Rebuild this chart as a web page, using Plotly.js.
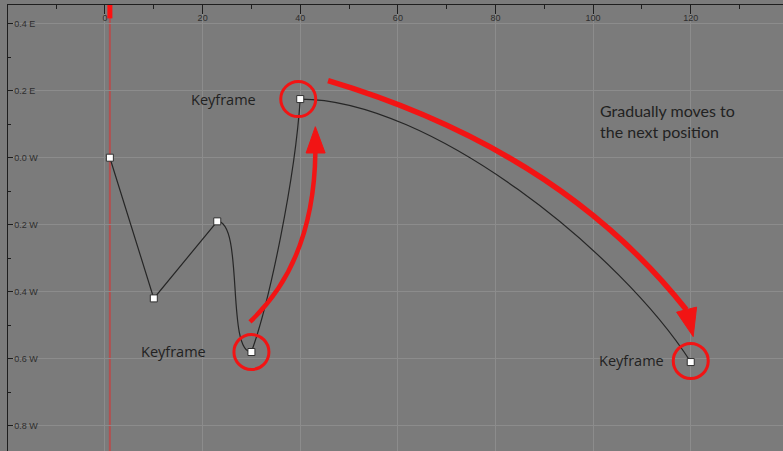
<!DOCTYPE html>
<html>
<head>
<meta charset="utf-8">
<script src="https://cdn.plot.ly/plotly-3.0.1.min.js"></script>
<style>html,body{margin:0;padding:0;background:#7b7b7b;}#chart{width:783px;height:451px;}</style>
</head>
<body>
<div id="chart"></div>
<script>
// Keyframes of the function curve
const frames = [1, 10, 23, 30, 40, 120];
const values = [0.0, -0.42, -0.19, -0.58, 0.175, -0.61];
// Segment interpolation between consecutive keyframes
const segType = ['linear', 'linear', 'bezier', 'bezier', 'bezier'];
// Bezier handles (outgoing from keyframe i, incoming to keyframe i+1)
const outHandleX = [null, null, 28.5, 33.8, 66.7];
const outHandleY = [null, null, -0.19, -0.425, 0.175];
const inHandleX = [null, null, 24.8, 38.9, 105.7];
const inHandleY = [null, null, -0.58, -0.064, -0.284];

// Axis ticks
const xTickVals = [-20, 0, 20, 40, 60, 80, 100, 120, 140];
const xTickText = ['-20', '0', '20', '40', '60', '80', '100', '120', '140'];
const yTickVals = [0.4, 0.2, 0.0, -0.2, -0.4, -0.6, -0.8];
const yTickText = ['0.4 E', '0.2 E', '0.0 W', '0.2 W', '0.4 W', '0.6 W', '0.8 W'];

const playheadFrame = 1;

// Callouts
const labelText = ['Keyframe', 'Keyframe', 'Keyframe', 'Gradually moves to<br>the next position'];
const labelX = [24.3, 14.0, 107.8, 101.0];
const labelY = [0.174, -0.577, -0.604, 0.110];
const labelAnchor = ['center', 'center', 'center', 'left'];
const labelSize = [14.5, 14.5, 14.5, 16];
const labelFont = ['Open Sans', 'Open Sans', 'Open Sans', 'Lato'];
const circledKeys = [3, 4, 5];

// Build curve path through axis coordinates
let path = 'M ' + frames[0] + ',' + values[0];
for (let i = 0; i < segType.length; i++) {
  if (segType[i] === 'linear') {
    path += ' L ' + frames[i + 1] + ',' + values[i + 1];
  } else {
    path += ' C ' + outHandleX[i] + ',' + outHandleY[i] + ' ' + inHandleX[i] + ',' + inHandleY[i] + ' ' + frames[i + 1] + ',' + values[i + 1];
  }
}

const RED = '#f21414';
const shapes = [];
// playhead
shapes.push({type: 'line', xref: 'x', yref: 'paper', x0: playheadFrame, x1: playheadFrame, y0: 0, y1: 1,
  line: {color: 'rgba(225,45,45,0.55)', width: 2}, layer: 'between'});
shapes.push({type: 'line', xref: 'x', yref: 'paper', x0: playheadFrame, x1: playheadFrame, y0: 0.97, y1: 1,
  line: {color: '#ff1010', width: 5}, layer: 'above'});
// curve
shapes.push({type: 'path', xref: 'x', yref: 'y', path: path, line: {color: '#262626', width: 1.2}, layer: 'between'});
// red circles around keyframes
const circleOff = [[0, 0], [-2, 0], [0, 1]];
circledKeys.forEach((k, j) => {
  shapes.push({type: 'circle', xref: 'x', yref: 'y', xsizemode: 'pixel', ysizemode: 'pixel',
    xanchor: frames[k], yanchor: values[k],
    x0: -17.5 + circleOff[j][0], x1: 17.5 + circleOff[j][0], y0: -17.5 + circleOff[j][1], y1: 17.5 + circleOff[j][1],
    line: {color: RED, width: 3}, layer: 'above'});
});
// curved arrows
shapes.push({type: 'path', xref: 'x', yref: 'y', path: 'M 29.7,-0.49 Q 42.8,-0.311 43.1,0.016',
  line: {color: RED, width: 4.5}, layer: 'above'});
shapes.push({type: 'path', xref: 'x', yref: 'y', path: 'M 41.2,0.014 L 43.1,0.0925 L 45.1,0.014 Z',
  fillcolor: RED, line: {color: RED, width: 1}, layer: 'above'});
shapes.push({type: 'path', xref: 'x', yref: 'y', path: 'M 45.7,0.230 Q 93.2,0.023 119.1,-0.454',
  line: {color: RED, width: 5.5}, layer: 'above'});
shapes.push({type: 'path', xref: 'x', yref: 'y', path: 'M 117.1,-0.461 L 120.5,-0.534 L 121.2,-0.446 Z',
  fillcolor: RED, line: {color: RED, width: 1}, layer: 'above'});

const annotations = labelText.map((t, i) => ({
  xref: 'x', yref: 'y', x: labelX[i], y: labelY[i], text: t, showarrow: false,
  xanchor: labelAnchor[i], yanchor: 'middle', align: 'left',
  font: {family: labelFont[i], size: labelSize[i], color: '#222'}
}));

const trace = {
  x: frames, y: values, type: 'scatter', mode: 'markers',
  marker: {symbol: 'square', size: 7, color: '#ffffff', line: {color: '#303030', width: 1}},
  hoverinfo: 'skip', cliponaxis: false
};

const tickFont = {family: 'Liberation Sans', size: 9, color: '#2e2e2e'};
const layout = {
  width: 783, height: 451,
  margin: {l: 8, r: 0, t: 5, b: 0},
  paper_bgcolor: '#7b7b7b', plot_bgcolor: '#7b7b7b',
  showlegend: false,
  xaxis: {
    side: 'top', range: [-19.87, 138.9], tickvals: xTickVals, ticktext: xTickText,
    ticks: 'inside', ticklen: 9, tickcolor: '#1e1e1e', tickwidth: 1,
    ticklabelposition: 'inside', tickfont: tickFont,
    showline: true, linecolor: '#1e1e1e', linewidth: 1.5,
    showgrid: true, gridcolor: '#8c8c8c', gridwidth: 1, zeroline: false,
    minor: {ticks: 'inside', ticklen: 4, dtick: 10, tick0: 0, tickcolor: '#1e1e1e', showgrid: false}
  },
  yaxis: {
    range: [-0.8755, 0.4558], tickvals: yTickVals, ticktext: yTickText,
    ticks: 'inside', ticklen: 5, tickcolor: '#1e1e1e', tickwidth: 1,
    ticklabelposition: 'inside', tickfont: tickFont,
    showline: true, linecolor: '#1e1e1e', linewidth: 1.5,
    showgrid: true, gridcolor: '#8c8c8c', gridwidth: 1, zeroline: false,
    minor: {ticks: 'inside', ticklen: 3, dtick: 0.1, tick0: 0, tickcolor: '#1e1e1e', showgrid: false}
  },
  shapes: shapes,
  annotations: annotations
};

Plotly.newPlot('chart', [trace], layout, {displayModeBar: false, staticPlot: true});
</script>
</body>
</html>
